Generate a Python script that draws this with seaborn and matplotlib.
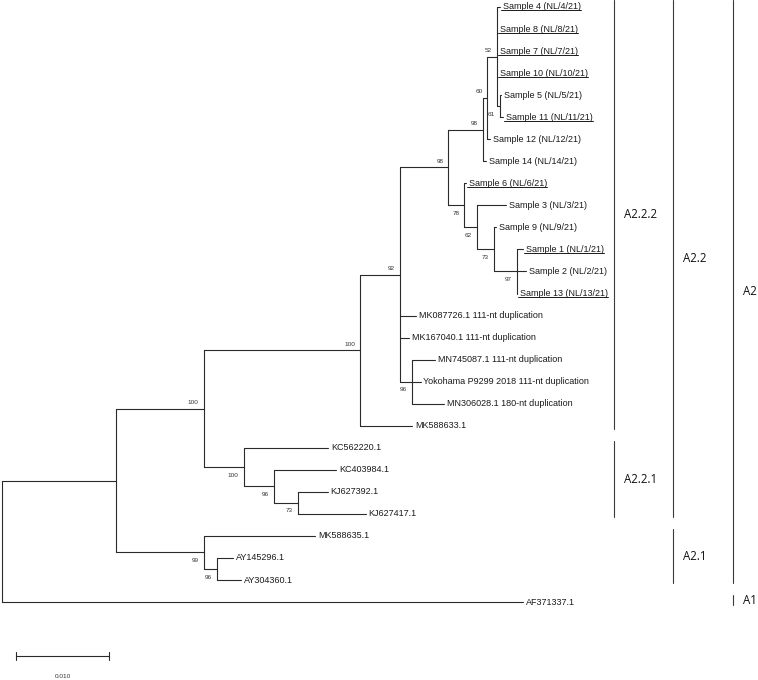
import matplotlib
matplotlib.use("Agg")
import matplotlib.pyplot as plt
import seaborn as sns
import pandas as pd

# tree as an edge table: child, parent, branch length (subst./site), bootstrap
nodes = [
    "A2", "AF371337.1",
    "A2.2", "A2.1",
    "A2.2.2", "A2.2.1",
    "n92", "MK588633.1",
    "n98a", "MK087726.1 111-nt duplication", "MK167040.1 111-nt duplication", "n96a",
    "n98b", "n78",
    "n60", "Sample 14 (NL/14/21)",
    "n52", "Sample 12 (NL/12/21)",
    "Sample 4 (NL/4/21)", "Sample 8 (NL/8/21)", "Sample 7 (NL/7/21)", "Sample 10 (NL/10/21)", "n61",
    "Sample 5 (NL/5/21)", "Sample 11 (NL/11/21)",
    "Sample 6 (NL/6/21)", "n62",
    "Sample 3 (NL/3/21)", "n73",
    "Sample 9 (NL/9/21)", "n97",
    "Sample 1 (NL/1/21)", "Sample 2 (NL/2/21)", "Sample 13 (NL/13/21)",
    "MN745087.1 111-nt duplication", "Yokohama P9299 2018 111-nt duplication", "MN306028.1 180-nt duplication",
    "KC562220.1", "n96b",
    "KC403984.1", "n73b",
    "KJ627392.1", "KJ627417.1",
    "MK588635.1", "n96c",
    "AY145296.1", "AY304360.1",
]
parents = [
    "root", "root",
    "A2", "A2",
    "A2.2", "A2.2",
    "A2.2.2", "A2.2.2",
    "n92", "n92", "n92", "n92",
    "n98a", "n98a",
    "n98b", "n98b",
    "n60", "n60",
    "n52", "n52", "n52", "n52", "n52",
    "n61", "n61",
    "n78", "n78",
    "n62", "n62",
    "n73", "n73",
    "n97", "n97", "n97",
    "n96a", "n96a", "n96a",
    "A2.2.1", "A2.2.1",
    "n96b", "n96b",
    "n73b", "n73b",
    "A2.1", "A2.1",
    "n96c", "n96c",
]
lengths = [
    0.0123, 0.0560,
    0.0094, 0.0094,
    0.0168, 0.0043,
    0.0043, 0.0056,
    0.0052, 0.0017, 0.0010, 0.0013,
    0.0037, 0.0017,
    0.0005, 0.0003,
    0.0010, 0.0003,
    0.0004, 0.0, 0.0, 0.0, 0.0003,
    0.0002, 0.0004,
    0.0002, 0.0014,
    0.0031, 0.0018,
    0.0002, 0.0025,
    0.0006, 0.0009, 0.0,
    0.0025, 0.0009, 0.0034,
    0.0091, 0.0032,
    0.0067, 0.0026,
    0.0032, 0.0073,
    0.0120, 0.0014,
    0.0017, 0.0026,
]
support = {
    "A2.2": "100", "A2.1": "99", "A2.2.2": "100", "A2.2.1": "100",
    "n92": "92", "n98a": "98", "n96a": "96", "n98b": "98", "n78": "78",
    "n60": "60", "n52": "52", "n61": "61", "n62": "62", "n73": "73",
    "n97": "97", "n96b": "96", "n73b": "73", "n96c": "96",
}
underlined = ["Sample 4 (NL/4/21)", "Sample 8 (NL/8/21)", "Sample 7 (NL/7/21)",
              "Sample 10 (NL/10/21)", "Sample 11 (NL/11/21)", "Sample 6 (NL/6/21)",
              "Sample 1 (NL/1/21)", "Sample 13 (NL/13/21)"]

clade_names = ["A2.2.2", "A2.2.1", "A2.2", "A2.1", "A2", "A1"]
clade_first = [0, 20, 0, 24, 0, 27]
clade_last = [19, 23, 23, 26, 26, 27]
clade_col = [0, 0, 1, 1, 2, 2]

scale_len = 0.010

# ---- layout -------------------------------------------------------------
children = {}
for n, p in zip(nodes, parents):
    children.setdefault(p, []).append(n)
blen = dict(zip(nodes, lengths))
parent_of = dict(zip(nodes, parents))

xpos = {"root": 0.0}
ypos = {}
leaves = []


def place(n):
    for c in children.get(n, []):
        xpos[c] = xpos[n] + blen[c]
        place(c)
    if n in children:
        ypos[n] = (ypos[children[n][0]] + ypos[children[n][-1]]) / 2
    else:
        ypos[n] = len(leaves)
        leaves.append(n)


place("root")

rows = []
seg = 0
for n, kids in children.items():
    rows += [(xpos[n], ypos[kids[0]], seg), (xpos[n], ypos[kids[-1]], seg)]
    seg += 1
    for c in kids:
        rows += [(xpos[n], ypos[c], seg), (xpos[c], ypos[c], seg)]
        seg += 1
seg_df = pd.DataFrame(rows, columns=["x", "y", "seg"])

# ---- drawing --------------------------------------------------------------
sns.set_theme(style="white")
plt.rcParams["font.family"] = ["Liberation Sans", "DejaVu Sans"]

W, H = 758, 680
PX = 0.01 / 93          # data units per pixel, horizontally
ROW = 22.04             # pixels per leaf row
fig = plt.figure(figsize=(W / 100, H / 100), dpi=100)
ax = fig.add_axes([0, 0, 1, 1])
ax.set_xlim(-2 * PX, (W - 2) * PX)
ax.set_ylim((H - 7) / ROW, -7 / ROW)
ax.axis("off")

line_col = "#2a2a2a"
sns.lineplot(data=seg_df, x="x", y="y", units="seg", estimator=None, sort=False,
             color=line_col, linewidth=0.8, ax=ax, legend=False)

texts = {}
for n in leaves:
    texts[n] = ax.text(xpos[n] + 3 * PX, ypos[n], n, fontsize=6.5, va="center",
                       ha="left", color="#1a1a1a")

for n, s in support.items():
    sibs = children[parent_of[n]]
    dy = -6 / ROW if n == sibs[0] else 8 / ROW
    ax.text(xpos[n] - 5 * PX, ypos[n] + dy, s, fontsize=4.6, ha="right",
            va="center", color="#333333")

# clade bars
col_px = [614, 673, 733]
for name, f, l, c in zip(clade_names, clade_first, clade_last, clade_col):
    bx = (col_px[c] - 2) * PX
    top, bot = f - 0.3, l + 0.15
    ax.plot([bx, bx], [top, bot], color="#3a3a3a", lw=0.8)
    ax.text(bx + 10 * PX, (top + bot) / 2, name, fontsize=8.3, family="Open Sans",
            va="center", ha="left", color="#111111")

# scale bar
sx0 = 14 * PX
sy = (656 - 7) / ROW
tick = 4 / ROW
ax.plot([sx0, sx0 + scale_len], [sy, sy], color=line_col, lw=0.8)
ax.plot([sx0, sx0], [sy - tick, sy + tick], color=line_col, lw=0.8)
ax.plot([sx0 + scale_len, sx0 + scale_len], [sy - tick, sy + tick], color=line_col, lw=0.8)
ax.text(sx0 + scale_len / 2, (677 - 7) / ROW, f"{scale_len:.3f}", fontsize=4.6,
        ha="center", va="center", color="#333333")

# underline some sample names
fig.canvas.draw()
r = fig.canvas.get_renderer()
inv = ax.transData.inverted()
for n in underlined:
    bb = texts[n].get_window_extent(r)
    (x0, y0), (x1, _) = inv.transform([(bb.x0 - 2, bb.y0 + 1.0), (bb.x1, bb.y0 + 1.0)])
    ax.plot([x0, x1], [y0, y0], color="#1a1a1a", lw=0.7)

fig.savefig("out.png", dpi=100)
